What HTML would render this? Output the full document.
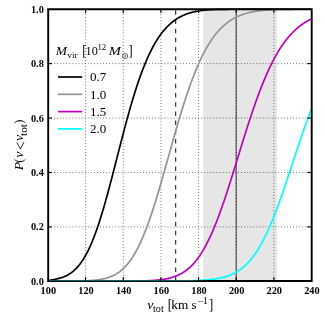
<!DOCTYPE html>
<html><head><meta charset="utf-8"><title>P(v &lt; v_tot)</title>
<style>
html,body{margin:0;padding:0;background:#fff;}
body{width:325px;height:321px;overflow:hidden;}
svg{display:block;will-change:transform;}
text{font-family:"Liberation Serif",serif;fill:#000;}
.tk{font-weight:bold;font-size:10.3px;}
.lg{font-size:13px;}
</style></head><body>
<svg width="325" height="321" viewBox="0 0 325 321">
<rect x="0" y="0" width="325" height="321" fill="#ffffff"/>
<rect x="203.2" y="9.2" width="73.7" height="271.8" fill="#e6e6e6"/>
<line x1="236.23" y1="281.0" x2="236.23" y2="9.2" stroke="#6a6a6a" stroke-width="1.35"/>
<line x1="85.58" y1="281.68" x2="85.58" y2="9.2" stroke="#000" stroke-width="0.7" stroke-dasharray="0.766 2.299" fill="none"/>
<line x1="123.25" y1="281.68" x2="123.25" y2="9.2" stroke="#000" stroke-width="0.7" stroke-dasharray="0.766 2.299" fill="none"/>
<line x1="160.91" y1="281.68" x2="160.91" y2="9.2" stroke="#000" stroke-width="0.7" stroke-dasharray="0.766 2.299" fill="none"/>
<line x1="198.57" y1="281.68" x2="198.57" y2="9.2" stroke="#000" stroke-width="0.7" stroke-dasharray="0.766 2.299" fill="none"/>
<line x1="236.23" y1="281.68" x2="236.23" y2="9.2" stroke="#000" stroke-width="0.7" stroke-dasharray="0.766 2.299" fill="none"/>
<line x1="273.90" y1="281.68" x2="273.90" y2="9.2" stroke="#000" stroke-width="0.7" stroke-dasharray="0.766 2.299" fill="none"/>
<line x1="48.05" y1="226.88" x2="311.7" y2="226.88" stroke="#000" stroke-width="0.7" stroke-dasharray="0.766 2.299" fill="none"/>
<line x1="48.05" y1="172.46" x2="311.7" y2="172.46" stroke="#000" stroke-width="0.7" stroke-dasharray="0.766 2.299" fill="none"/>
<line x1="48.05" y1="118.04" x2="311.7" y2="118.04" stroke="#000" stroke-width="0.7" stroke-dasharray="0.766 2.299" fill="none"/>
<line x1="48.05" y1="63.62" x2="311.7" y2="63.62" stroke="#000" stroke-width="0.7" stroke-dasharray="0.766 2.299" fill="none"/>
<line x1="175.65" y1="281.3" x2="175.65" y2="9.2" stroke="#2e2e2e" stroke-width="1.15" stroke-dasharray="4.5 4.69"/>
<clipPath id="cp"><rect x="47.92" y="8.2" width="263.64" height="275.1"/></clipPath>
<g clip-path="url(#cp)" fill="none" stroke-width="1.7" stroke-linejoin="round">
<path d="M47.9,280.80 L48.4,280.77 L48.9,280.65 L49.4,280.53 L49.9,280.41 L50.4,280.29 L50.9,280.17 L51.4,280.06 L51.9,279.95 L52.4,279.84 L52.9,279.73 L53.4,279.62 L53.9,279.52 L54.4,279.42 L54.9,279.31 L55.4,279.21 L55.9,279.11 L56.4,279.01 L56.9,278.90 L57.4,278.79 L57.9,278.67 L58.4,278.55 L58.9,278.42 L59.4,278.29 L59.9,278.15 L60.4,278.00 L60.9,277.85 L61.4,277.69 L61.9,277.52 L62.4,277.35 L62.9,277.16 L63.4,276.97 L63.9,276.78 L64.4,276.57 L64.9,276.36 L65.4,276.13 L65.9,275.90 L66.4,275.65 L66.9,275.40 L67.4,275.14 L67.9,274.86 L68.4,274.58 L68.9,274.28 L69.4,273.97 L69.9,273.65 L70.4,273.32 L70.9,272.97 L71.4,272.62 L71.9,272.24 L72.4,271.86 L72.9,271.46 L73.4,271.04 L73.9,270.61 L74.4,270.17 L74.9,269.71 L75.4,269.23 L75.9,268.74 L76.4,268.23 L76.9,267.70 L77.4,267.15 L77.9,266.59 L78.4,266.01 L78.9,265.41 L79.4,264.79 L79.9,264.15 L80.4,263.49 L80.9,262.81 L81.4,262.11 L81.9,261.39 L82.4,260.65 L82.9,259.89 L83.4,259.10 L83.9,258.30 L84.4,257.47 L84.9,256.62 L85.4,255.74 L85.9,254.85 L86.4,253.93 L86.9,252.99 L87.4,252.02 L87.9,251.03 L88.4,250.02 L88.9,248.98 L89.4,247.92 L89.9,246.83 L90.4,245.72 L90.9,244.59 L91.4,243.43 L91.9,242.25 L92.4,241.04 L92.9,239.81 L93.4,238.56 L93.9,237.28 L94.4,235.97 L94.9,234.65 L95.4,233.30 L95.9,231.92 L96.4,230.52 L96.9,229.10 L97.4,227.66 L97.9,226.19 L98.4,224.70 L98.9,223.19 L99.4,221.66 L99.9,220.11 L100.4,218.53 L100.9,216.93 L101.4,215.32 L101.9,213.68 L102.4,212.03 L102.9,210.35 L103.4,208.66 L103.9,206.95 L104.4,205.22 L104.9,203.48 L105.4,201.71 L105.9,199.94 L106.4,198.15 L106.9,196.34 L107.4,194.52 L107.9,192.68 L108.4,190.84 L108.9,188.98 L109.4,187.11 L109.9,185.23 L110.4,183.34 L110.9,181.44 L111.4,179.53 L111.9,177.61 L112.4,175.69 L112.9,173.76 L113.4,171.82 L113.9,169.88 L114.4,167.93 L114.9,165.98 L115.4,164.03 L115.9,162.08 L116.4,160.12 L116.9,158.16 L117.4,156.20 L117.9,154.25 L118.4,152.29 L118.9,150.34 L119.4,148.39 L119.9,146.44 L120.4,144.49 L120.9,142.55 L121.4,140.62 L121.9,138.69 L122.4,136.77 L122.9,134.85 L123.4,132.94 L123.9,131.04 L124.4,129.15 L124.9,127.27 L125.4,125.40 L125.9,123.54 L126.4,121.68 L126.9,119.85 L127.4,118.02 L127.9,116.20 L128.4,114.40 L128.9,112.61 L129.4,110.84 L129.9,109.07 L130.4,107.33 L130.9,105.59 L131.4,103.88 L131.9,102.18 L132.4,100.49 L132.9,98.82 L133.4,97.17 L133.9,95.53 L134.4,93.91 L134.9,92.31 L135.4,90.72 L135.9,89.16 L136.4,87.61 L136.9,86.08 L137.4,84.56 L137.9,83.07 L138.4,81.59 L138.9,80.13 L139.4,78.69 L139.9,77.27 L140.4,75.87 L140.9,74.49 L141.4,73.12 L141.9,71.78 L142.4,70.45 L142.9,69.15 L143.4,67.86 L143.9,66.59 L144.4,65.34 L144.9,64.11 L145.4,62.90 L145.9,61.71 L146.4,60.53 L146.9,59.38 L147.4,58.24 L147.9,57.12 L148.4,56.02 L148.9,54.94 L149.4,53.88 L149.9,52.84 L150.4,51.81 L150.9,50.80 L151.4,49.81 L151.9,48.84 L152.4,47.88 L152.9,46.95 L153.4,46.03 L153.9,45.12 L154.4,44.24 L154.9,43.37 L155.4,42.51 L155.9,41.68 L156.4,40.85 L156.9,40.05 L157.4,39.26 L157.9,38.49 L158.4,37.73 L158.9,36.99 L159.4,36.26 L159.9,35.55 L160.4,34.85 L160.9,34.17 L161.4,33.50 L161.9,32.84 L162.4,32.20 L162.9,31.58 L163.4,30.96 L163.9,30.36 L164.4,29.77 L164.9,29.20 L165.4,28.64 L165.9,28.09 L166.4,27.55 L166.9,27.03 L167.4,26.51 L167.9,26.01 L168.4,25.52 L168.9,25.05 L169.4,24.58 L169.9,24.12 L170.4,23.68 L170.9,23.24 L171.4,22.82 L171.9,22.40 L172.4,22.00 L172.9,21.61 L173.4,21.22 L173.9,20.85 L174.4,20.48 L174.9,20.12 L175.4,19.78 L175.9,19.44 L176.4,19.11 L176.9,18.79 L177.4,18.47 L177.9,18.17 L178.4,17.87 L178.9,17.58 L179.4,17.30 L179.9,17.03 L180.4,16.76 L180.9,16.50 L181.4,16.25 L181.9,16.00 L182.4,15.76 L182.9,15.53 L183.4,15.30 L183.9,15.08 L184.4,14.87 L184.9,14.67 L185.4,14.46 L185.9,14.27 L186.4,14.08 L186.9,13.90 L187.4,13.72 L187.9,13.55 L188.4,13.38 L188.9,13.22 L189.4,13.06 L189.9,12.91 L190.4,12.76 L190.9,12.61 L191.4,12.48 L191.9,12.34 L192.4,12.21 L192.9,12.09 L193.4,11.96 L193.9,11.85 L194.4,11.73 L194.9,11.62 L195.4,11.52 L195.9,11.42 L196.4,11.32 L196.9,11.22 L197.4,11.13 L197.9,11.04 L198.4,10.96 L198.9,10.88 L199.4,10.80 L199.9,10.72 L200.4,10.65 L200.9,10.58 L201.4,10.52 L201.9,10.45 L202.4,10.39 L202.9,10.33 L203.4,10.28 L203.9,10.23 L204.4,10.17 L204.9,10.13 L205.4,10.08 L205.9,10.04 L206.4,9.99 L206.9,9.95 L207.4,9.92 L207.9,9.88 L208.4,9.84 L208.9,9.81 L209.4,9.78 L209.9,9.75 L210.4,9.72 L210.9,9.69 L211.4,9.67 L211.9,9.64 L212.4,9.62 L212.9,9.60 L213.4,9.57 L213.9,9.55 L214.4,9.54 L214.9,9.52 L215.4,9.50 L215.9,9.48 L216.4,9.47 L216.9,9.45 L217.4,9.44 L217.9,9.43 L218.4,9.41 L218.9,9.40 L219.4,9.39 L219.9,9.38 L220.4,9.37 L220.9,9.36 L221.4,9.35 L221.9,9.34 L222.4,9.33 L222.9,9.32 L223.4,9.32 L223.9,9.31 L224.4,9.30 L224.9,9.30 L225.4,9.29 L225.9,9.29 L226.4,9.28 L226.9,9.28 L227.4,9.27 L227.9,9.27 L228.4,9.26 L228.9,9.26 L229.4,9.26 L229.9,9.25 L230.4,9.25 L230.9,9.25 L231.4,9.24 L231.9,9.24 L232.4,9.24 L232.9,9.24 L233.4,9.23 L233.9,9.23 L234.4,9.23 L234.9,9.23 L235.4,9.23 L235.9,9.22 L236.4,9.22 L236.9,9.22 L237.4,9.22 L237.9,9.22 L238.4,9.22 L238.9,9.22 L239.4,9.21 L239.9,9.21 L240.4,9.21 L240.9,9.21 L241.4,9.21 L241.9,9.21 L242.4,9.21 L242.9,9.21 L243.4,9.21 L243.9,9.21 L244.4,9.21 L244.9,9.21 L245.4,9.21 L245.9,9.21 L246.4,9.21 L246.9,9.20 L247.4,9.20 L247.9,9.20 L248.4,9.20 L248.9,9.20 L249.4,9.20 L249.9,9.20 L250.4,9.20 L250.9,9.20 L251.4,9.20 L251.9,9.20 L252.4,9.20 L252.9,9.20 L253.4,9.20 L253.9,9.20 L254.4,9.20 L254.9,9.20 L255.4,9.20 L255.9,9.20 L256.4,9.20 L256.9,9.20 L257.4,9.20 L257.9,9.20 L258.4,9.20 L258.9,9.20 L259.4,9.20 L259.9,9.20 L260.4,9.20 L260.9,9.20 L261.4,9.20 L261.9,9.20 L262.4,9.20 L262.9,9.20 L263.4,9.20 L263.9,9.20 L264.4,9.20 L264.9,9.20 L265.4,9.20 L265.9,9.20 L266.4,9.20 L266.9,9.20 L267.4,9.20 L267.9,9.20 L268.4,9.20 L268.9,9.20 L269.4,9.20 L269.9,9.20 L270.4,9.20 L270.9,9.20 L271.4,9.20 L271.9,9.20 L272.4,9.20 L272.9,9.20 L273.4,9.20 L273.9,9.20 L274.4,9.20 L274.9,9.20 L275.4,9.20 L275.9,9.20 L276.4,9.20 L276.9,9.20 L277.4,9.20 L277.9,9.20 L278.4,9.20 L278.9,9.20 L279.4,9.20 L279.9,9.20 L280.4,9.20 L280.9,9.20 L281.4,9.20 L281.9,9.20 L282.4,9.20 L282.9,9.20 L283.4,9.20 L283.9,9.20 L284.4,9.20 L284.9,9.20 L285.4,9.20 L285.9,9.20 L286.4,9.20 L286.9,9.20 L287.4,9.20 L287.9,9.20 L288.4,9.20 L288.9,9.20 L289.4,9.20 L289.9,9.20 L290.4,9.20 L290.9,9.20 L291.4,9.20 L291.9,9.20 L292.4,9.20 L292.9,9.20 L293.4,9.20 L293.9,9.20 L294.4,9.20 L294.9,9.20 L295.4,9.20 L295.9,9.20 L296.4,9.20 L296.9,9.20 L297.4,9.20 L297.9,9.20 L298.4,9.20 L298.9,9.20 L299.4,9.20 L299.9,9.20 L300.4,9.20 L300.9,9.20 L301.4,9.20 L301.9,9.20 L302.4,9.20 L302.9,9.20 L303.4,9.20 L303.9,9.20 L304.4,9.20 L304.9,9.20 L305.4,9.20 L305.9,9.20 L306.4,9.20 L306.9,9.20 L307.4,9.20 L307.9,9.20 L308.4,9.20 L308.9,9.20 L309.4,9.20 L309.9,9.20 L310.4,9.20 L310.9,9.20 L311.4,9.20" stroke="#000000"/>
<path d="M47.9,280.80 L48.4,280.80 L48.9,280.80 L49.4,280.80 L49.9,280.80 L50.4,280.80 L50.9,280.80 L51.4,280.80 L51.9,280.80 L52.4,280.80 L52.9,280.80 L53.4,280.80 L53.9,280.80 L54.4,280.80 L54.9,280.80 L55.4,280.80 L55.9,280.80 L56.4,280.80 L56.9,280.80 L57.4,280.80 L57.9,280.80 L58.4,280.80 L58.9,280.80 L59.4,280.80 L59.9,280.80 L60.4,280.80 L60.9,280.80 L61.4,280.80 L61.9,280.80 L62.4,280.80 L62.9,280.80 L63.4,280.80 L63.9,280.80 L64.4,280.80 L64.9,280.80 L65.4,280.80 L65.9,280.80 L66.4,280.80 L66.9,280.80 L67.4,280.80 L67.9,280.80 L68.4,280.80 L68.9,280.80 L69.4,280.80 L69.9,280.80 L70.4,280.80 L70.9,280.80 L71.4,280.80 L71.9,280.80 L72.4,280.80 L72.9,280.80 L73.4,280.80 L73.9,280.80 L74.4,280.80 L74.9,280.80 L75.4,280.80 L75.9,280.80 L76.4,280.80 L76.9,280.80 L77.4,280.80 L77.9,280.80 L78.4,280.80 L78.9,280.80 L79.4,280.80 L79.9,280.80 L80.4,280.80 L80.9,280.80 L81.4,280.80 L81.9,280.80 L82.4,280.80 L82.9,280.80 L83.4,280.80 L83.9,280.80 L84.4,280.80 L84.9,280.80 L85.4,280.80 L85.9,280.80 L86.4,280.80 L86.9,280.80 L87.4,280.78 L87.9,280.75 L88.4,280.72 L88.9,280.69 L89.4,280.66 L89.9,280.62 L90.4,280.59 L90.9,280.55 L91.4,280.51 L91.9,280.47 L92.4,280.43 L92.9,280.38 L93.4,280.34 L93.9,280.29 L94.4,280.24 L94.9,280.19 L95.4,280.13 L95.9,280.07 L96.4,280.01 L96.9,279.95 L97.4,279.89 L97.9,279.82 L98.4,279.75 L98.9,279.67 L99.4,279.60 L99.9,279.52 L100.4,279.43 L100.9,279.34 L101.4,279.25 L101.9,279.16 L102.4,279.06 L102.9,278.96 L103.4,278.85 L103.9,278.73 L104.4,278.62 L104.9,278.49 L105.4,278.37 L105.9,278.23 L106.4,278.09 L106.9,277.95 L107.4,277.80 L107.9,277.64 L108.4,277.48 L108.9,277.31 L109.4,277.14 L109.9,276.95 L110.4,276.76 L110.9,276.57 L111.4,276.36 L111.9,276.15 L112.4,275.93 L112.9,275.70 L113.4,275.46 L113.9,275.21 L114.4,274.96 L114.9,274.69 L115.4,274.42 L115.9,274.13 L116.4,273.84 L116.9,273.53 L117.4,273.21 L117.9,272.89 L118.4,272.55 L118.9,272.20 L119.4,271.84 L119.9,271.46 L120.4,271.08 L120.9,270.68 L121.4,270.27 L121.9,269.84 L122.4,269.41 L122.9,268.95 L123.4,268.49 L123.9,268.01 L124.4,267.51 L124.9,267.00 L125.4,266.48 L125.9,265.94 L126.4,265.39 L126.9,264.81 L127.4,264.23 L127.9,263.62 L128.4,263.00 L128.9,262.37 L129.4,261.71 L129.9,261.04 L130.4,260.35 L130.9,259.64 L131.4,258.92 L131.9,258.18 L132.4,257.42 L132.9,256.64 L133.4,255.84 L133.9,255.02 L134.4,254.19 L134.9,253.33 L135.4,252.46 L135.9,251.56 L136.4,250.65 L136.9,249.72 L137.4,248.76 L137.9,247.79 L138.4,246.80 L138.9,245.79 L139.4,244.76 L139.9,243.71 L140.4,242.63 L140.9,241.54 L141.4,240.43 L141.9,239.30 L142.4,238.15 L142.9,236.98 L143.4,235.79 L143.9,234.58 L144.4,233.35 L144.9,232.10 L145.4,230.83 L145.9,229.55 L146.4,228.24 L146.9,226.92 L147.4,225.57 L147.9,224.21 L148.4,222.83 L148.9,221.43 L149.4,220.02 L149.9,218.59 L150.4,217.14 L150.9,215.67 L151.4,214.19 L151.9,212.69 L152.4,211.18 L152.9,209.65 L153.4,208.10 L153.9,206.54 L154.4,204.97 L154.9,203.38 L155.4,201.78 L155.9,200.16 L156.4,198.54 L156.9,196.90 L157.4,195.24 L157.9,193.58 L158.4,191.91 L158.9,190.22 L159.4,188.53 L159.9,186.82 L160.4,185.11 L160.9,183.39 L161.4,181.66 L161.9,179.92 L162.4,178.18 L162.9,176.43 L163.4,174.67 L163.9,172.91 L164.4,171.14 L164.9,169.37 L165.4,167.60 L165.9,165.82 L166.4,164.04 L166.9,162.25 L167.4,160.47 L167.9,158.68 L168.4,156.89 L168.9,155.11 L169.4,153.32 L169.9,151.53 L170.4,149.75 L170.9,147.96 L171.4,146.18 L171.9,144.41 L172.4,142.63 L172.9,140.86 L173.4,139.09 L173.9,137.33 L174.4,135.58 L174.9,133.82 L175.4,132.08 L175.9,130.34 L176.4,128.61 L176.9,126.89 L177.4,125.17 L177.9,123.46 L178.4,121.77 L178.9,120.08 L179.4,118.40 L179.9,116.73 L180.4,115.07 L180.9,113.42 L181.4,111.78 L181.9,110.15 L182.4,108.53 L182.9,106.93 L183.4,105.34 L183.9,103.76 L184.4,102.19 L184.9,100.64 L185.4,99.10 L185.9,97.57 L186.4,96.05 L186.9,94.56 L187.4,93.07 L187.9,91.60 L188.4,90.14 L188.9,88.70 L189.4,87.27 L189.9,85.86 L190.4,84.46 L190.9,83.08 L191.4,81.72 L191.9,80.36 L192.4,79.03 L192.9,77.71 L193.4,76.41 L193.9,75.12 L194.4,73.85 L194.9,72.59 L195.4,71.35 L195.9,70.13 L196.4,68.92 L196.9,67.73 L197.4,66.55 L197.9,65.40 L198.4,64.25 L198.9,63.13 L199.4,62.01 L199.9,60.92 L200.4,59.84 L200.9,58.78 L201.4,57.73 L201.9,56.70 L202.4,55.69 L202.9,54.69 L203.4,53.71 L203.9,52.74 L204.4,51.79 L204.9,50.85 L205.4,49.93 L205.9,49.02 L206.4,48.13 L206.9,47.26 L207.4,46.40 L207.9,45.55 L208.4,44.72 L208.9,43.90 L209.4,43.10 L209.9,42.31 L210.4,41.54 L210.9,40.78 L211.4,40.03 L211.9,39.30 L212.4,38.58 L212.9,37.88 L213.4,37.19 L213.9,36.51 L214.4,35.84 L214.9,35.19 L215.4,34.55 L215.9,33.93 L216.4,33.31 L216.9,32.71 L217.4,32.12 L217.9,31.54 L218.4,30.97 L218.9,30.42 L219.4,29.88 L219.9,29.34 L220.4,28.82 L220.9,28.31 L221.4,27.81 L221.9,27.32 L222.4,26.85 L222.9,26.38 L223.4,25.92 L223.9,25.47 L224.4,25.04 L224.9,24.61 L225.4,24.19 L225.9,23.78 L226.4,23.38 L226.9,22.99 L227.4,22.61 L227.9,22.23 L228.4,21.87 L228.9,21.51 L229.4,21.17 L229.9,20.83 L230.4,20.49 L230.9,20.17 L231.4,19.85 L231.9,19.55 L232.4,19.25 L232.9,18.95 L233.4,18.67 L233.9,18.39 L234.4,18.11 L234.9,17.85 L235.4,17.59 L235.9,17.33 L236.4,17.09 L236.9,16.85 L237.4,16.61 L237.9,16.39 L238.4,16.16 L238.9,15.95 L239.4,15.74 L239.9,15.53 L240.4,15.33 L240.9,15.14 L241.4,14.95 L241.9,14.76 L242.4,14.58 L242.9,14.41 L243.4,14.24 L243.9,14.07 L244.4,13.91 L244.9,13.76 L245.4,13.60 L245.9,13.46 L246.4,13.31 L246.9,13.17 L247.4,13.04 L247.9,12.91 L248.4,12.78 L248.9,12.66 L249.4,12.53 L249.9,12.42 L250.4,12.30 L250.9,12.19 L251.4,12.09 L251.9,11.98 L252.4,11.88 L252.9,11.78 L253.4,11.69 L253.9,11.60 L254.4,11.51 L254.9,11.42 L255.4,11.34 L255.9,11.26 L256.4,11.18 L256.9,11.11 L257.4,11.03 L257.9,10.96 L258.4,10.89 L258.9,10.83 L259.4,10.76 L259.9,10.70 L260.4,10.64 L260.9,10.59 L261.4,10.53 L261.9,10.48 L262.4,10.43 L262.9,10.38 L263.4,10.33 L263.9,10.28 L264.4,10.24 L264.9,10.20 L265.4,10.15 L265.9,10.11 L266.4,10.08 L266.9,10.04 L267.4,10.00 L267.9,9.97 L268.4,9.94 L268.9,9.91 L269.4,9.88 L269.9,9.85 L270.4,9.82 L270.9,9.79 L271.4,9.77 L271.9,9.74 L272.4,9.72 L272.9,9.70 L273.4,9.67 L273.9,9.65 L274.4,9.63 L274.9,9.61 L275.4,9.60 L275.9,9.58 L276.4,9.56 L276.9,9.54 L277.4,9.53 L277.9,9.51 L278.4,9.50 L278.9,9.49 L279.4,9.47 L279.9,9.46 L280.4,9.45 L280.9,9.44 L281.4,9.43 L281.9,9.41 L282.4,9.40 L282.9,9.39 L283.4,9.39 L283.9,9.38 L284.4,9.37 L284.9,9.36 L285.4,9.35 L285.9,9.35 L286.4,9.34 L286.9,9.33 L287.4,9.32 L287.9,9.32 L288.4,9.31 L288.9,9.31 L289.4,9.30 L289.9,9.30 L290.4,9.29 L290.9,9.29 L291.4,9.28 L291.9,9.28 L292.4,9.27 L292.9,9.27 L293.4,9.27 L293.9,9.26 L294.4,9.26 L294.9,9.26 L295.4,9.25 L295.9,9.25 L296.4,9.25 L296.9,9.25 L297.4,9.24 L297.9,9.24 L298.4,9.24 L298.9,9.24 L299.4,9.24 L299.9,9.23 L300.4,9.23 L300.9,9.23 L301.4,9.23 L301.9,9.23 L302.4,9.23 L302.9,9.22 L303.4,9.22 L303.9,9.22 L304.4,9.22 L304.9,9.22 L305.4,9.22 L305.9,9.22 L306.4,9.22 L306.9,9.22 L307.4,9.21 L307.9,9.21 L308.4,9.21 L308.9,9.21 L309.4,9.21 L309.9,9.21 L310.4,9.21 L310.9,9.21 L311.4,9.21" stroke="#949494"/>
<path d="M47.9,280.80 L48.4,280.80 L48.9,280.80 L49.4,280.80 L49.9,280.80 L50.4,280.80 L50.9,280.80 L51.4,280.80 L51.9,280.80 L52.4,280.80 L52.9,280.80 L53.4,280.80 L53.9,280.80 L54.4,280.80 L54.9,280.80 L55.4,280.80 L55.9,280.80 L56.4,280.80 L56.9,280.80 L57.4,280.80 L57.9,280.80 L58.4,280.80 L58.9,280.80 L59.4,280.80 L59.9,280.80 L60.4,280.80 L60.9,280.80 L61.4,280.80 L61.9,280.80 L62.4,280.80 L62.9,280.80 L63.4,280.80 L63.9,280.80 L64.4,280.80 L64.9,280.80 L65.4,280.80 L65.9,280.80 L66.4,280.80 L66.9,280.80 L67.4,280.80 L67.9,280.80 L68.4,280.80 L68.9,280.80 L69.4,280.80 L69.9,280.80 L70.4,280.80 L70.9,280.80 L71.4,280.80 L71.9,280.80 L72.4,280.80 L72.9,280.80 L73.4,280.80 L73.9,280.80 L74.4,280.80 L74.9,280.80 L75.4,280.80 L75.9,280.80 L76.4,280.80 L76.9,280.80 L77.4,280.80 L77.9,280.80 L78.4,280.80 L78.9,280.80 L79.4,280.80 L79.9,280.80 L80.4,280.80 L80.9,280.80 L81.4,280.80 L81.9,280.80 L82.4,280.80 L82.9,280.80 L83.4,280.80 L83.9,280.80 L84.4,280.80 L84.9,280.80 L85.4,280.80 L85.9,280.80 L86.4,280.80 L86.9,280.80 L87.4,280.80 L87.9,280.80 L88.4,280.80 L88.9,280.80 L89.4,280.80 L89.9,280.80 L90.4,280.80 L90.9,280.80 L91.4,280.80 L91.9,280.80 L92.4,280.80 L92.9,280.80 L93.4,280.80 L93.9,280.80 L94.4,280.80 L94.9,280.80 L95.4,280.80 L95.9,280.80 L96.4,280.80 L96.9,280.80 L97.4,280.80 L97.9,280.80 L98.4,280.80 L98.9,280.80 L99.4,280.80 L99.9,280.80 L100.4,280.80 L100.9,280.80 L101.4,280.80 L101.9,280.80 L102.4,280.80 L102.9,280.80 L103.4,280.80 L103.9,280.80 L104.4,280.80 L104.9,280.80 L105.4,280.80 L105.9,280.80 L106.4,280.80 L106.9,280.80 L107.4,280.80 L107.9,280.80 L108.4,280.80 L108.9,280.80 L109.4,280.80 L109.9,280.80 L110.4,280.80 L110.9,280.80 L111.4,280.80 L111.9,280.80 L112.4,280.80 L112.9,280.80 L113.4,280.80 L113.9,280.80 L114.4,280.80 L114.9,280.80 L115.4,280.80 L115.9,280.80 L116.4,280.80 L116.9,280.80 L117.4,280.80 L117.9,280.80 L118.4,280.80 L118.9,280.80 L119.4,280.80 L119.9,280.80 L120.4,280.80 L120.9,280.80 L121.4,280.80 L121.9,280.80 L122.4,280.80 L122.9,280.80 L123.4,280.80 L123.9,280.80 L124.4,280.80 L124.9,280.80 L125.4,280.80 L125.9,280.80 L126.4,280.80 L126.9,280.80 L127.4,280.80 L127.9,280.80 L128.4,280.80 L128.9,280.80 L129.4,280.80 L129.9,280.80 L130.4,280.80 L130.9,280.80 L131.4,280.80 L131.9,280.80 L132.4,280.80 L132.9,280.80 L133.4,280.80 L133.9,280.80 L134.4,280.80 L134.9,280.80 L135.4,280.80 L135.9,280.80 L136.4,280.80 L136.9,280.80 L137.4,280.80 L137.9,280.80 L138.4,280.80 L138.9,280.80 L139.4,280.80 L139.9,280.80 L140.4,280.80 L140.9,280.80 L141.4,280.80 L141.9,280.80 L142.4,280.80 L142.9,280.80 L143.4,280.80 L143.9,280.80 L144.4,280.80 L144.9,280.80 L145.4,280.80 L145.9,280.80 L146.4,280.80 L146.9,280.80 L147.4,280.79 L147.9,280.77 L148.4,280.74 L148.9,280.72 L149.4,280.69 L149.9,280.66 L150.4,280.64 L150.9,280.61 L151.4,280.57 L151.9,280.54 L152.4,280.51 L152.9,280.47 L153.4,280.44 L153.9,280.40 L154.4,280.36 L154.9,280.32 L155.4,280.28 L155.9,280.23 L156.4,280.19 L156.9,280.14 L157.4,280.09 L157.9,280.04 L158.4,279.98 L158.9,279.93 L159.4,279.87 L159.9,279.81 L160.4,279.75 L160.9,279.69 L161.4,279.62 L161.9,279.55 L162.4,279.48 L162.9,279.41 L163.4,279.33 L163.9,279.25 L164.4,279.16 L164.9,279.08 L165.4,278.99 L165.9,278.89 L166.4,278.80 L166.9,278.70 L167.4,278.59 L167.9,278.48 L168.4,278.37 L168.9,278.25 L169.4,278.13 L169.9,278.00 L170.4,277.87 L170.9,277.74 L171.4,277.60 L171.9,277.45 L172.4,277.30 L172.9,277.14 L173.4,276.98 L173.9,276.81 L174.4,276.64 L174.9,276.46 L175.4,276.27 L175.9,276.08 L176.4,275.88 L176.9,275.68 L177.4,275.46 L177.9,275.24 L178.4,275.02 L178.9,274.78 L179.4,274.54 L179.9,274.29 L180.4,274.03 L180.9,273.76 L181.4,273.49 L181.9,273.20 L182.4,272.91 L182.9,272.60 L183.4,272.29 L183.9,271.97 L184.4,271.64 L184.9,271.30 L185.4,270.95 L185.9,270.59 L186.4,270.21 L186.9,269.83 L187.4,269.44 L187.9,269.03 L188.4,268.61 L188.9,268.18 L189.4,267.74 L189.9,267.29 L190.4,266.83 L190.9,266.35 L191.4,265.86 L191.9,265.36 L192.4,264.84 L192.9,264.31 L193.4,263.77 L193.9,263.21 L194.4,262.64 L194.9,262.06 L195.4,261.46 L195.9,260.84 L196.4,260.22 L196.9,259.57 L197.4,258.92 L197.9,258.24 L198.4,257.56 L198.9,256.85 L199.4,256.14 L199.9,255.40 L200.4,254.65 L200.9,253.89 L201.4,253.11 L201.9,252.31 L202.4,251.50 L202.9,250.67 L203.4,249.82 L203.9,248.96 L204.4,248.08 L204.9,247.18 L205.4,246.27 L205.9,245.34 L206.4,244.40 L206.9,243.44 L207.4,242.46 L207.9,241.46 L208.4,240.45 L208.9,239.43 L209.4,238.38 L209.9,237.32 L210.4,236.24 L210.9,235.15 L211.4,234.04 L211.9,232.91 L212.4,231.77 L212.9,230.61 L213.4,229.44 L213.9,228.25 L214.4,227.04 L214.9,225.82 L215.4,224.59 L215.9,223.33 L216.4,222.07 L216.9,220.79 L217.4,219.49 L217.9,218.18 L218.4,216.85 L218.9,215.52 L219.4,214.16 L219.9,212.80 L220.4,211.42 L220.9,210.03 L221.4,208.62 L221.9,207.21 L222.4,205.78 L222.9,204.34 L223.4,202.88 L223.9,201.42 L224.4,199.95 L224.9,198.46 L225.4,196.97 L225.9,195.46 L226.4,193.95 L226.9,192.42 L227.4,190.89 L227.9,189.35 L228.4,187.80 L228.9,186.25 L229.4,184.68 L229.9,183.11 L230.4,181.54 L230.9,179.95 L231.4,178.36 L231.9,176.77 L232.4,175.17 L232.9,173.57 L233.4,171.96 L233.9,170.35 L234.4,168.73 L234.9,167.11 L235.4,165.49 L235.9,163.87 L236.4,162.25 L236.9,160.62 L237.4,159.00 L237.9,157.37 L238.4,155.74 L238.9,154.12 L239.4,152.49 L239.9,150.87 L240.4,149.25 L240.9,147.62 L241.4,146.01 L241.9,144.39 L242.4,142.78 L242.9,141.17 L243.4,139.56 L243.9,137.96 L244.4,136.36 L244.9,134.77 L245.4,133.18 L245.9,131.60 L246.4,130.03 L246.9,128.46 L247.4,126.89 L247.9,125.34 L248.4,123.79 L248.9,122.25 L249.4,120.72 L249.9,119.19 L250.4,117.67 L250.9,116.16 L251.4,114.66 L251.9,113.17 L252.4,111.69 L252.9,110.22 L253.4,108.76 L253.9,107.31 L254.4,105.87 L254.9,104.44 L255.4,103.02 L255.9,101.61 L256.4,100.21 L256.9,98.82 L257.4,97.45 L257.9,96.09 L258.4,94.74 L258.9,93.40 L259.4,92.07 L259.9,90.75 L260.4,89.45 L260.9,88.16 L261.4,86.88 L261.9,85.62 L262.4,84.37 L262.9,83.13 L263.4,81.90 L263.9,80.69 L264.4,79.49 L264.9,78.30 L265.4,77.13 L265.9,75.96 L266.4,74.82 L266.9,73.68 L267.4,72.56 L267.9,71.46 L268.4,70.36 L268.9,69.28 L269.4,68.22 L269.9,67.16 L270.4,66.12 L270.9,65.10 L271.4,64.08 L271.9,63.08 L272.4,62.10 L272.9,61.12 L273.4,60.16 L273.9,59.22 L274.4,58.28 L274.9,57.36 L275.4,56.45 L275.9,55.56 L276.4,54.68 L276.9,53.81 L277.4,52.95 L277.9,52.11 L278.4,51.28 L278.9,50.46 L279.4,49.66 L279.9,48.86 L280.4,48.08 L280.9,47.31 L281.4,46.56 L281.9,45.81 L282.4,45.08 L282.9,44.36 L283.4,43.65 L283.9,42.95 L284.4,42.26 L284.9,41.59 L285.4,40.92 L285.9,40.27 L286.4,39.63 L286.9,39.00 L287.4,38.38 L287.9,37.77 L288.4,37.17 L288.9,36.58 L289.4,36.01 L289.9,35.44 L290.4,34.88 L290.9,34.33 L291.4,33.79 L291.9,33.27 L292.4,32.75 L292.9,32.24 L293.4,31.74 L293.9,31.25 L294.4,30.77 L294.9,30.29 L295.4,29.83 L295.9,29.37 L296.4,28.93 L296.9,28.49 L297.4,28.06 L297.9,27.64 L298.4,27.22 L298.9,26.82 L299.4,26.42 L299.9,26.03 L300.4,25.65 L300.9,25.27 L301.4,24.91 L301.9,24.55 L302.4,24.19 L302.9,23.85 L303.4,23.51 L303.9,23.17 L304.4,22.85 L304.9,22.53 L305.4,22.22 L305.9,21.91 L306.4,21.61 L306.9,21.32 L307.4,21.03 L307.9,20.75 L308.4,20.47 L308.9,20.20 L309.4,19.94 L309.9,19.68 L310.4,19.42 L310.9,19.18 L311.4,18.93" stroke="#bf00bf"/>
<path d="M47.9,280.80 L48.4,280.80 L48.9,280.80 L49.4,280.80 L49.9,280.80 L50.4,280.80 L50.9,280.80 L51.4,280.80 L51.9,280.80 L52.4,280.80 L52.9,280.80 L53.4,280.80 L53.9,280.80 L54.4,280.80 L54.9,280.80 L55.4,280.80 L55.9,280.80 L56.4,280.80 L56.9,280.80 L57.4,280.80 L57.9,280.80 L58.4,280.80 L58.9,280.80 L59.4,280.80 L59.9,280.80 L60.4,280.80 L60.9,280.80 L61.4,280.80 L61.9,280.80 L62.4,280.80 L62.9,280.80 L63.4,280.80 L63.9,280.80 L64.4,280.80 L64.9,280.80 L65.4,280.80 L65.9,280.80 L66.4,280.80 L66.9,280.80 L67.4,280.80 L67.9,280.80 L68.4,280.80 L68.9,280.80 L69.4,280.80 L69.9,280.80 L70.4,280.80 L70.9,280.80 L71.4,280.80 L71.9,280.80 L72.4,280.80 L72.9,280.80 L73.4,280.80 L73.9,280.80 L74.4,280.80 L74.9,280.80 L75.4,280.80 L75.9,280.80 L76.4,280.80 L76.9,280.80 L77.4,280.80 L77.9,280.80 L78.4,280.80 L78.9,280.80 L79.4,280.80 L79.9,280.80 L80.4,280.80 L80.9,280.80 L81.4,280.80 L81.9,280.80 L82.4,280.80 L82.9,280.80 L83.4,280.80 L83.9,280.80 L84.4,280.80 L84.9,280.80 L85.4,280.80 L85.9,280.80 L86.4,280.80 L86.9,280.80 L87.4,280.80 L87.9,280.80 L88.4,280.80 L88.9,280.80 L89.4,280.80 L89.9,280.80 L90.4,280.80 L90.9,280.80 L91.4,280.80 L91.9,280.80 L92.4,280.80 L92.9,280.80 L93.4,280.80 L93.9,280.80 L94.4,280.80 L94.9,280.80 L95.4,280.80 L95.9,280.80 L96.4,280.80 L96.9,280.80 L97.4,280.80 L97.9,280.80 L98.4,280.80 L98.9,280.80 L99.4,280.80 L99.9,280.80 L100.4,280.80 L100.9,280.80 L101.4,280.80 L101.9,280.80 L102.4,280.80 L102.9,280.80 L103.4,280.80 L103.9,280.80 L104.4,280.80 L104.9,280.80 L105.4,280.80 L105.9,280.80 L106.4,280.80 L106.9,280.80 L107.4,280.80 L107.9,280.80 L108.4,280.80 L108.9,280.80 L109.4,280.80 L109.9,280.80 L110.4,280.80 L110.9,280.80 L111.4,280.80 L111.9,280.80 L112.4,280.80 L112.9,280.80 L113.4,280.80 L113.9,280.80 L114.4,280.80 L114.9,280.80 L115.4,280.80 L115.9,280.80 L116.4,280.80 L116.9,280.80 L117.4,280.80 L117.9,280.80 L118.4,280.80 L118.9,280.80 L119.4,280.80 L119.9,280.80 L120.4,280.80 L120.9,280.80 L121.4,280.80 L121.9,280.80 L122.4,280.80 L122.9,280.80 L123.4,280.80 L123.9,280.80 L124.4,280.80 L124.9,280.80 L125.4,280.80 L125.9,280.80 L126.4,280.80 L126.9,280.80 L127.4,280.80 L127.9,280.80 L128.4,280.80 L128.9,280.80 L129.4,280.80 L129.9,280.80 L130.4,280.80 L130.9,280.80 L131.4,280.80 L131.9,280.80 L132.4,280.80 L132.9,280.80 L133.4,280.80 L133.9,280.80 L134.4,280.80 L134.9,280.80 L135.4,280.80 L135.9,280.80 L136.4,280.80 L136.9,280.80 L137.4,280.80 L137.9,280.80 L138.4,280.80 L138.9,280.80 L139.4,280.80 L139.9,280.80 L140.4,280.80 L140.9,280.80 L141.4,280.80 L141.9,280.80 L142.4,280.80 L142.9,280.80 L143.4,280.80 L143.9,280.80 L144.4,280.80 L144.9,280.80 L145.4,280.80 L145.9,280.80 L146.4,280.80 L146.9,280.80 L147.4,280.80 L147.9,280.80 L148.4,280.80 L148.9,280.80 L149.4,280.80 L149.9,280.80 L150.4,280.80 L150.9,280.80 L151.4,280.80 L151.9,280.80 L152.4,280.80 L152.9,280.80 L153.4,280.80 L153.9,280.80 L154.4,280.80 L154.9,280.80 L155.4,280.80 L155.9,280.80 L156.4,280.80 L156.9,280.80 L157.4,280.80 L157.9,280.80 L158.4,280.80 L158.9,280.80 L159.4,280.80 L159.9,280.80 L160.4,280.80 L160.9,280.80 L161.4,280.80 L161.9,280.80 L162.4,280.80 L162.9,280.80 L163.4,280.80 L163.9,280.80 L164.4,280.80 L164.9,280.80 L165.4,280.80 L165.9,280.80 L166.4,280.80 L166.9,280.80 L167.4,280.80 L167.9,280.80 L168.4,280.80 L168.9,280.80 L169.4,280.80 L169.9,280.80 L170.4,280.80 L170.9,280.80 L171.4,280.80 L171.9,280.80 L172.4,280.80 L172.9,280.80 L173.4,280.80 L173.9,280.80 L174.4,280.80 L174.9,280.80 L175.4,280.80 L175.9,280.80 L176.4,280.80 L176.9,280.80 L177.4,280.80 L177.9,280.80 L178.4,280.80 L178.9,280.80 L179.4,280.80 L179.9,280.80 L180.4,280.80 L180.9,280.80 L181.4,280.80 L181.9,280.80 L182.4,280.80 L182.9,280.80 L183.4,280.80 L183.9,280.80 L184.4,280.80 L184.9,280.80 L185.4,280.80 L185.9,280.80 L186.4,280.80 L186.9,280.80 L187.4,280.80 L187.9,280.80 L188.4,280.80 L188.9,280.80 L189.4,280.80 L189.9,280.80 L190.4,280.80 L190.9,280.80 L191.4,280.80 L191.9,280.78 L192.4,280.76 L192.9,280.74 L193.4,280.73 L193.9,280.71 L194.4,280.69 L194.9,280.67 L195.4,280.65 L195.9,280.63 L196.4,280.60 L196.9,280.58 L197.4,280.56 L197.9,280.54 L198.4,280.51 L198.9,280.49 L199.4,280.46 L199.9,280.43 L200.4,280.41 L200.9,280.38 L201.4,280.35 L201.9,280.32 L202.4,280.29 L202.9,280.26 L203.4,280.22 L203.9,280.19 L204.4,280.15 L204.9,280.12 L205.4,280.08 L205.9,280.04 L206.4,280.00 L206.9,279.95 L207.4,279.91 L207.9,279.86 L208.4,279.82 L208.9,279.77 L209.4,279.72 L209.9,279.66 L210.4,279.61 L210.9,279.55 L211.4,279.49 L211.9,279.43 L212.4,279.37 L212.9,279.31 L213.4,279.24 L213.9,279.17 L214.4,279.10 L214.9,279.02 L215.4,278.95 L215.9,278.87 L216.4,278.79 L216.9,278.70 L217.4,278.61 L217.9,278.52 L218.4,278.43 L218.9,278.33 L219.4,278.23 L219.9,278.13 L220.4,278.02 L220.9,277.91 L221.4,277.80 L221.9,277.68 L222.4,277.56 L222.9,277.43 L223.4,277.30 L223.9,277.17 L224.4,277.03 L224.9,276.88 L225.4,276.74 L225.9,276.58 L226.4,276.43 L226.9,276.26 L227.4,276.10 L227.9,275.92 L228.4,275.74 L228.9,275.56 L229.4,275.37 L229.9,275.18 L230.4,274.97 L230.9,274.77 L231.4,274.55 L231.9,274.33 L232.4,274.10 L232.9,273.87 L233.4,273.63 L233.9,273.38 L234.4,273.12 L234.9,272.86 L235.4,272.59 L235.9,272.31 L236.4,272.03 L236.9,271.73 L237.4,271.43 L237.9,271.12 L238.4,270.80 L238.9,270.47 L239.4,270.13 L239.9,269.78 L240.4,269.42 L240.9,269.06 L241.4,268.68 L241.9,268.29 L242.4,267.90 L242.9,267.49 L243.4,267.07 L243.9,266.65 L244.4,266.21 L244.9,265.76 L245.4,265.30 L245.9,264.82 L246.4,264.34 L246.9,263.84 L247.4,263.34 L247.9,262.82 L248.4,262.28 L248.9,261.74 L249.4,261.18 L249.9,260.61 L250.4,260.03 L250.9,259.43 L251.4,258.82 L251.9,258.20 L252.4,257.57 L252.9,256.92 L253.4,256.25 L253.9,255.57 L254.4,254.88 L254.9,254.18 L255.4,253.46 L255.9,252.72 L256.4,251.98 L256.9,251.21 L257.4,250.44 L257.9,249.64 L258.4,248.84 L258.9,248.02 L259.4,247.18 L259.9,246.33 L260.4,245.46 L260.9,244.58 L261.4,243.68 L261.9,242.77 L262.4,241.84 L262.9,240.90 L263.4,239.95 L263.9,238.97 L264.4,237.99 L264.9,236.98 L265.4,235.97 L265.9,234.94 L266.4,233.89 L266.9,232.83 L267.4,231.75 L267.9,230.66 L268.4,229.56 L268.9,228.44 L269.4,227.30 L269.9,226.16 L270.4,224.99 L270.9,223.82 L271.4,222.63 L271.9,221.43 L272.4,220.21 L272.9,218.98 L273.4,217.74 L273.9,216.48 L274.4,215.22 L274.9,213.94 L275.4,212.64 L275.9,211.34 L276.4,210.03 L276.9,208.70 L277.4,207.36 L277.9,206.01 L278.4,204.65 L278.9,203.28 L279.4,201.90 L279.9,200.51 L280.4,199.12 L280.9,197.71 L281.4,196.29 L281.9,194.87 L282.4,193.44 L282.9,191.99 L283.4,190.55 L283.9,189.09 L284.4,187.63 L284.9,186.16 L285.4,184.69 L285.9,183.21 L286.4,181.73 L286.9,180.24 L287.4,178.74 L287.9,177.25 L288.4,175.75 L288.9,174.24 L289.4,172.73 L289.9,171.22 L290.4,169.71 L290.9,168.20 L291.4,166.68 L291.9,165.17 L292.4,163.65 L292.9,162.13 L293.4,160.62 L293.9,159.10 L294.4,157.59 L294.9,156.07 L295.4,154.56 L295.9,153.05 L296.4,151.54 L296.9,150.04 L297.4,148.54 L297.9,147.04 L298.4,145.54 L298.9,144.05 L299.4,142.57 L299.9,141.09 L300.4,139.61 L300.9,138.14 L301.4,136.68 L301.9,135.22 L302.4,133.77 L302.9,132.33 L303.4,130.89 L303.9,129.46 L304.4,128.04 L304.9,126.62 L305.4,125.22 L305.9,123.82 L306.4,122.43 L306.9,121.05 L307.4,119.68 L307.9,118.32 L308.4,116.97 L308.9,115.63 L309.4,114.29 L309.9,112.97 L310.4,111.66 L310.9,110.36 L311.4,109.07" stroke="#00ffff"/>
</g>
<path d="M48.2,281.95 V8.299999999999999 M47.2,9.2 H312.45 M311.7,8.299999999999999 V281.95 M312.45,281.0 H47.2" fill="none" stroke="#000" stroke-width="1.9"/>
<path d="M49.4,280.50 L49.9,280.50 L50.4,280.50 L50.9,280.50 L51.4,280.50 L51.9,280.50 L52.4,280.50 L52.9,280.50 L53.4,280.50 L53.9,280.50 L54.4,280.50 L54.9,280.50 L55.4,280.50 L55.9,280.50 L56.4,280.50 L56.9,280.50 L57.4,280.50 L57.9,280.50 L58.4,280.50 L58.9,280.50 L59.4,280.50 L59.9,280.50 L60.4,280.50 L60.9,280.50 L61.4,280.50 L61.9,280.50 L62.4,280.50 L62.9,280.50 L63.4,280.50 L63.9,280.50 L64.4,280.50 L64.9,280.50 L65.4,280.50 L65.9,280.50 L66.4,280.50 L66.9,280.50 L67.4,280.50 L67.9,280.50 L68.4,280.50 L68.9,280.50 L69.4,280.50 L69.9,280.50 L70.4,280.50 L70.9,280.50 L71.4,280.50 L71.9,280.50 L72.4,280.50 L72.9,280.50 L73.4,280.50 L73.9,280.50 L74.4,280.50 L74.9,280.50 L75.4,280.50 L75.9,280.50 L76.4,280.50 L76.9,280.50 L77.4,280.50 L77.9,280.50 L78.4,280.50 L78.9,280.50 L79.4,280.50 L79.9,280.50 L80.4,280.50 L80.9,280.50 L81.4,280.50 L81.9,280.50 L82.4,280.50 L82.9,280.50 L83.4,280.50 L83.9,280.50 L84.4,280.50 L84.9,280.50 L85.4,280.50 L85.9,280.50 L86.4,280.50 L86.9,280.50 L87.4,280.50 L87.9,280.50 L88.4,280.50 L88.9,280.50 L89.4,280.50 L89.9,280.50 L90.4,280.50 L90.9,280.50 L91.4,280.50 L91.9,280.50 L92.4,280.50 L92.9,280.50 L93.4,280.50 L93.9,280.50 L94.4,280.50 L94.9,280.50 L95.4,280.50 L95.9,280.50 L96.4,280.50 L96.9,280.50 L97.4,280.50 L97.9,280.50 L98.4,280.50 L98.9,280.50 L99.4,280.50 L99.9,280.50 L100.4,280.50 L100.9,280.50 L101.4,280.50 L101.9,280.50 L102.4,280.50 L102.9,280.50 L103.4,280.50 L103.9,280.50 L104.4,280.50 L104.9,280.50 L105.4,280.50 L105.9,280.50 L106.4,280.50 L106.9,280.50 L107.4,280.50 L107.9,280.50 L108.4,280.50 L108.9,280.50 L109.4,280.50 L109.9,280.50 L110.4,280.50 L110.9,280.50 L111.4,280.50 L111.9,280.50 L112.4,280.50 L112.9,280.50 L113.4,280.50 L113.9,280.50 L114.4,280.50 L114.9,280.50 L115.4,280.50 L115.9,280.50 L116.4,280.50 L116.9,280.50 L117.4,280.50 L117.9,280.50 L118.4,280.50 L118.9,280.50 L119.4,280.50 L119.9,280.50 L120.4,280.50 L120.9,280.50 L121.4,280.50 L121.9,280.50 L122.4,280.50 L122.9,280.50 L123.4,280.50 L123.9,280.50 L124.4,280.50 L124.9,280.50 L125.4,280.50 L125.9,280.50 L126.4,280.50 L126.9,280.50 L127.4,280.50 L127.9,280.50 L128.4,280.50 L128.9,280.50 L129.4,280.50 L129.9,280.50 L130.4,280.50 L130.9,280.50 L131.4,280.50 L131.9,280.50 L132.4,280.50 L132.9,280.50 L133.4,280.50 L133.9,280.50 L134.4,280.50 L134.9,280.50 L135.4,280.50 L135.9,280.50 L136.4,280.50 L136.9,280.50 L137.4,280.50 L137.9,280.50 L138.4,280.50 L138.9,280.50 L139.4,280.50 L139.9,280.50 L140.4,280.50 L140.9,280.50 L141.4,280.50 L141.9,280.50 L142.4,280.50 L142.9,280.50 L143.4,280.50 L143.9,280.50 L144.4,280.50 L144.9,280.50 L145.4,280.50 L145.9,280.50 L146.4,280.50 L146.9,280.50 L147.4,280.50 L147.9,280.50 L148.4,280.50 L148.9,280.50 L149.4,280.50 L149.9,280.50 L150.4,280.50 L150.9,280.50 L151.4,280.50 L151.9,280.50 L152.4,280.50 L152.9,280.50 L153.4,280.50 L153.9,280.50 L154.4,280.50 L154.9,280.50 L155.4,280.50 L155.9,280.50 L156.4,280.50 L156.9,280.50 L157.4,280.50 L157.9,280.50 L158.4,280.50 L158.9,280.50 L159.4,280.50 L159.9,280.50 L160.4,280.50 L160.9,280.50 L161.4,280.50 L161.9,280.50 L162.4,280.50 L162.9,280.50 L163.4,280.50 L163.9,280.50 L164.4,280.50 L164.9,280.50 L165.4,280.50 L165.9,280.50 L166.4,280.50 L166.9,280.50 L167.4,280.50 L167.9,280.50 L168.4,280.50 L168.9,280.50 L169.4,280.50 L169.9,280.50 L170.4,280.50 L170.9,280.50 L171.4,280.50 L171.9,280.50 L172.4,280.50 L172.9,280.50 L173.4,280.50 L173.9,280.50 L174.4,280.50 L174.9,280.50 L175.4,280.50 L175.9,280.50 L176.4,280.50 L176.9,280.50 L177.4,280.50 L177.9,280.50 L178.4,280.50 L178.9,280.50 L179.4,280.50 L179.9,280.50 L180.4,280.50 L180.9,280.50 L181.4,280.50 L181.9,280.50 L182.4,280.50 L182.9,280.50 L183.4,280.50 L183.9,280.50 L184.4,280.50 L184.9,280.50 L185.4,280.50 L185.9,280.50 L186.4,280.49 L186.9,280.48 L187.4,280.46 L187.9,280.45 L188.4,280.44 L188.9,280.42 L189.4,280.41 L189.9,280.39 L190.4,280.38 L190.9,280.36 L191.4,280.35 L191.9,280.33 L192.4,280.31 L192.9,280.29 L193.4,280.28 L193.9,280.26 L194.4,280.24 L194.9,280.22 L195.4,280.20 L195.9,280.18 L196.4,280.15 L196.9,280.13 L197.4,280.11 L197.9,280.09 L198.4,280.06 L198.9,280.04 L199.4,280.01 L199.9,279.98 L200.4,279.96 L200.9,279.93 L201.4,279.90 L201.9,279.87 L202.4,279.84 L202.9,279.81 L203.4,279.77 L203.9,279.74 L204.4,279.70 L204.9,279.67 L205.4,279.63 L205.9,279.59 L206.4,279.55 L206.9,279.50 L207.4,279.46 L207.9,279.41 L208.4,279.37 L208.9,279.32 L209.4,279.27 L209.9,279.21 L210.4,279.16 L210.9,279.10 L211.4,279.04 L211.9,278.98 L212.4,278.92 L212.9,278.86 L213.4,278.79 L213.9,278.72" fill="none" stroke="#00ffff" stroke-opacity="0.5" stroke-width="0.9"/>
<line x1="85.58" y1="281.0" x2="85.58" y2="277.0" stroke="#000" stroke-width="1.1"/><line x1="85.58" y1="9.2" x2="85.58" y2="13.0" stroke="#000" stroke-width="1.1"/>
<line x1="123.25" y1="281.0" x2="123.25" y2="277.0" stroke="#000" stroke-width="1.1"/><line x1="123.25" y1="9.2" x2="123.25" y2="13.0" stroke="#000" stroke-width="1.1"/>
<line x1="160.91" y1="281.0" x2="160.91" y2="277.0" stroke="#000" stroke-width="1.1"/><line x1="160.91" y1="9.2" x2="160.91" y2="13.0" stroke="#000" stroke-width="1.1"/>
<line x1="198.57" y1="281.0" x2="198.57" y2="277.0" stroke="#000" stroke-width="1.1"/><line x1="198.57" y1="9.2" x2="198.57" y2="13.0" stroke="#000" stroke-width="1.1"/>
<line x1="236.23" y1="281.0" x2="236.23" y2="277.0" stroke="#000" stroke-width="1.1"/><line x1="236.23" y1="9.2" x2="236.23" y2="13.0" stroke="#000" stroke-width="1.1"/>
<line x1="273.90" y1="281.0" x2="273.90" y2="277.0" stroke="#000" stroke-width="1.1"/><line x1="273.90" y1="9.2" x2="273.90" y2="13.0" stroke="#000" stroke-width="1.1"/>
<line x1="48.2" y1="226.88" x2="52.0" y2="226.88" stroke="#000" stroke-width="1.1"/><line x1="311.7" y1="226.88" x2="307.3" y2="226.88" stroke="#000" stroke-width="1.1"/>
<line x1="48.2" y1="172.46" x2="52.0" y2="172.46" stroke="#000" stroke-width="1.1"/><line x1="311.7" y1="172.46" x2="307.3" y2="172.46" stroke="#000" stroke-width="1.1"/>
<line x1="48.2" y1="118.04" x2="52.0" y2="118.04" stroke="#000" stroke-width="1.1"/><line x1="311.7" y1="118.04" x2="307.3" y2="118.04" stroke="#000" stroke-width="1.1"/>
<line x1="48.2" y1="63.62" x2="52.0" y2="63.62" stroke="#000" stroke-width="1.1"/><line x1="311.7" y1="63.62" x2="307.3" y2="63.62" stroke="#000" stroke-width="1.1"/>
<text class="tk" x="48.32" y="293.5" text-anchor="middle">100</text>
<text class="tk" x="85.98" y="293.5" text-anchor="middle">120</text>
<text class="tk" x="123.65" y="293.5" text-anchor="middle">140</text>
<text class="tk" x="161.31" y="293.5" text-anchor="middle">160</text>
<text class="tk" x="198.97" y="293.5" text-anchor="middle">180</text>
<text class="tk" x="236.63" y="293.5" text-anchor="middle">200</text>
<text class="tk" x="274.30" y="293.5" text-anchor="middle">220</text>
<text class="tk" x="311.96" y="293.5" text-anchor="middle">240</text>
<text class="tk" x="43.8" y="284.50" text-anchor="end">0.0</text>
<text class="tk" x="43.8" y="230.38" text-anchor="end">0.2</text>
<text class="tk" x="43.8" y="175.96" text-anchor="end">0.4</text>
<text class="tk" x="43.8" y="121.54" text-anchor="end">0.6</text>
<text class="tk" x="43.8" y="67.12" text-anchor="end">0.8</text>
<text class="tk" x="43.8" y="12.70" text-anchor="end">1.0</text>
<line x1="58" y1="77.00" x2="82.2" y2="77.00" stroke="#000000" stroke-width="1.7"/><text class="lg" x="90" y="81.20">0.7</text>
<line x1="58" y1="94.30" x2="82.2" y2="94.30" stroke="#949494" stroke-width="1.7"/><text class="lg" x="90" y="98.50">1.0</text>
<line x1="58" y1="111.60" x2="82.2" y2="111.60" stroke="#bf00bf" stroke-width="1.7"/><text class="lg" x="90" y="115.80">1.5</text>
<line x1="58" y1="128.90" x2="82.2" y2="128.90" stroke="#00ffff" stroke-width="1.7"/><text class="lg" x="90" y="133.10">2.0</text>
<text transform="translate(55.8,54.9)" style="font-size:13.5px;font-style:italic;">M</text><text transform="translate(67.2,57.5) scale(1.02,1.0)" style="font-size:9.2px;">vir</text><text transform="translate(82.2,55.4) scale(1.0,1.1)" style="font-size:12.6px;">[</text><text transform="translate(85.6,54.9) scale(0.95,1.0)" style="font-size:12.8px;">10</text><text transform="translate(97.4,50.3)" style="font-size:8.8px;">12</text><text transform="translate(108.8,54.9) scale(1.08,1.0)" style="font-size:13.5px;font-style:italic;">M</text><circle cx="125.1" cy="56.0" r="2.6" fill="none" stroke="#000" stroke-width="0.6"/><circle cx="125.1" cy="56.0" r="0.75" fill="#000"/><text transform="translate(128.4,55.4) scale(1.0,1.1)" style="font-size:12.6px;">]</text>
<text transform="translate(147.3,309.0) scale(1.05,1.0)" style="font-size:13.2px;font-style:italic;">v</text><text transform="translate(153.0,311.6) scale(1.08,1.0)" style="font-size:9.4px;">tot</text><text transform="translate(167.8,309.2) scale(1.0,1.1)" style="font-size:12.8px;">[</text><text transform="translate(171.3,309.0) scale(1.04,1.0)" style="font-size:12.8px;">km</text><text transform="translate(191.6,309.0)" style="font-size:12.8px;">s</text><text transform="translate(197.0,303.7) scale(1.3,1.0)" style="font-size:9.0px;">−</text><text transform="translate(202.9,303.8)" style="font-size:9.4px;">1</text><text transform="translate(209.0,309.2) scale(1.0,1.1)" style="font-size:12.8px;">]</text>
<g transform="translate(22.8,170.2) rotate(-90)"><text transform="translate(0.0,0) scale(1.08,1.0)" style="font-size:12.8px;font-style:italic;">P</text><text transform="translate(7.4,0) scale(1.0,1.05)" style="font-size:12.8px;">(</text><text transform="translate(12.4,0) scale(1.05,1.0)" style="font-size:13.2px;font-style:italic;">v</text><text transform="translate(20.3,3.4) scale(1.12,1.25)" style="font-size:13.5px;">&lt;</text><text transform="translate(29.1,0) scale(1.05,1.0)" style="font-size:13.2px;font-style:italic;">v</text><text transform="translate(34.2,4.2) scale(1.2,1.0)" style="font-size:9.4px;">tot</text><text transform="translate(46.5,0)" style="font-size:12.8px;">)</text></g>
</svg>
</body></html>
